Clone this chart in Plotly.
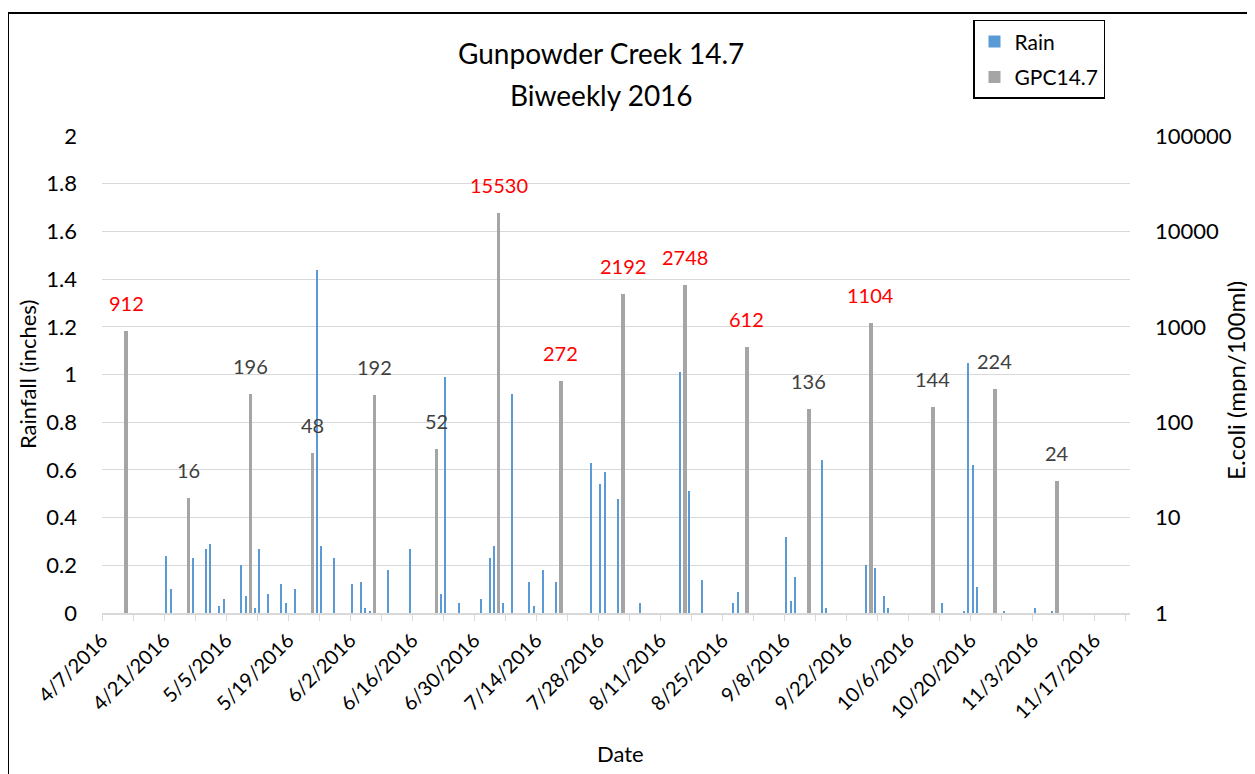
import numpy as np
import pandas as pd
import plotly.graph_objects as go

# daily rainfall (inches)
rain_dates = [
    '2016-04-21', '2016-04-22', '2016-04-27', '2016-04-30', '2016-05-01', '2016-05-03',
    '2016-05-04', '2016-05-08', '2016-05-09', '2016-05-11', '2016-05-12', '2016-05-14',
    '2016-05-17', '2016-05-18', '2016-05-20', '2016-05-25', '2016-05-26', '2016-05-29',
    '2016-06-02', '2016-06-04', '2016-06-05', '2016-06-06', '2016-06-10', '2016-06-15',
    '2016-06-22', '2016-06-23', '2016-06-26', '2016-07-01', '2016-07-03', '2016-07-04',
    '2016-07-06', '2016-07-08', '2016-07-12', '2016-07-13', '2016-07-15', '2016-07-18',
    '2016-07-26', '2016-07-28', '2016-07-29', '2016-08-01', '2016-08-06', '2016-08-15',
    '2016-08-17', '2016-08-20', '2016-08-27', '2016-08-28', '2016-09-08', '2016-09-09',
    '2016-09-10', '2016-09-16', '2016-09-17', '2016-09-26', '2016-09-28', '2016-09-30',
    '2016-10-01', '2016-10-13', '2016-10-18', '2016-10-19', '2016-10-20', '2016-10-21',
    '2016-10-27', '2016-11-03', '2016-11-07',
]
rain_inches = [
    0.24, 0.10, 0.23, 0.27, 0.29, 0.03,
    0.06, 0.20, 0.07, 0.02, 0.27, 0.08,
    0.12, 0.04, 0.10, 1.44, 0.28, 0.23,
    0.12, 0.13, 0.02, 0.01, 0.18, 0.27,
    0.08, 0.99, 0.04, 0.06, 0.23, 0.28,
    0.04, 0.92, 0.13, 0.03, 0.18, 0.13,
    0.63, 0.54, 0.59, 0.48, 0.04, 1.01,
    0.51, 0.14, 0.04, 0.09, 0.32, 0.05,
    0.15, 0.64, 0.02, 0.20, 0.19, 0.07,
    0.02, 0.04, 0.01, 1.05, 0.62, 0.11,
    0.01, 0.02, 0.01,
]

# biweekly E. coli samples at GPC14.7 (mpn/100ml)
ecoli_dates = [
    '2016-04-12', '2016-04-26', '2016-05-10', '2016-05-24', '2016-06-07', '2016-06-21',
    '2016-07-05', '2016-07-19', '2016-08-02', '2016-08-16', '2016-08-30', '2016-09-13',
    '2016-09-27', '2016-10-11', '2016-10-25', '2016-11-08',
]
ecoli_counts = [912, 16, 196, 48, 192, 52, 15530, 272, 2192, 2748, 612, 136, 1104, 144, 224, 24]

LIMIT = 240  # values above this get a red label

# page body adds an 8px margin, so the figure is 8px smaller than the window
OFF = 8
W, H = 1255 - OFF, 774 - OFF
L, R, T, B = 94, 125, 124, 161
PW, PH = W - L - R, H - T - B
DAY = 86400000
FONT = 'Lato, Carlito, Calibri, sans-serif'


def px_x(p):
    # screen pixel -> paper x
    return (p - OFF - L) / PW


def px_y(p):
    # screen pixel -> paper y
    return (H - B - (p - OFF)) / PH


def label(text, x, y, size, angle=0):
    fig.add_annotation(x=px_x(x), y=px_y(y), xref='paper', yref='paper',
                       xanchor='center', yanchor='middle', textangle=angle,
                       text=text, showarrow=False,
                       font=dict(family=FONT, size=size, color='#000000'))


# Excel centres each column in its day slot
half_day = pd.Timedelta(hours=12)
rain_x = pd.to_datetime(rain_dates) + half_day
ecoli_x = pd.to_datetime(ecoli_dates) + half_day

fig = go.Figure()
fig.add_trace(go.Bar(
    x=rain_x, y=rain_inches, name='Rain',
    marker=dict(color='#5B9BD5', line=dict(width=0)),
    width=0.3 * DAY, legendgroup='a',
))
fig.add_trace(go.Bar(
    x=ecoli_x, y=ecoli_counts, name='GPC14.7', yaxis='y2',
    marker=dict(color='#A5A5A5', line=dict(width=0)),
    width=0.85 * DAY, legendgroup='b',
))

for d, v in zip(ecoli_x, ecoli_counts):
    fig.add_annotation(
        x=d, y=np.log10(v), xref='x', yref='y2',
        text=str(v), showarrow=False, xanchor='center', yanchor='bottom', yshift=14,
        font=dict(family=FONT, size=20, color='#FF0000' if v > LIMIT else '#404040'),
    )

label('Gunpowder Creek 14.7', 601, 48, 28)
label('Biweekly 2016', 601, 91, 28)
label('Rainfall (inches)', 28, 373, 22, angle=-90)
label('E.coli (mpn/100ml)', 1236, 379, 24, angle=-90)
label('Date', 620, 755, 22)

# outer chart border
fig.add_shape(type='rect', xref='paper', yref='paper',
              x0=px_x(8), x1=px_x(1252), y0=px_y(790), y1=px_y(8),
              line=dict(color='#000000', width=2), layer='below')

fig.update_layout(
    width=W, height=H,
    margin=dict(l=L, r=R, t=T, b=B),
    paper_bgcolor='white', plot_bgcolor='white',
    barmode='overlay', bargap=0,
    font=dict(family=FONT, size=22, color='#000000'),
    legend=dict(x=px_x(973), y=px_y(15), xanchor='left', yanchor='top',
                bordercolor='#000000', borderwidth=1.5, bgcolor='white',
                font=dict(family=FONT, size=21), tracegroupgap=5,
                traceorder='grouped'),
    xaxis=dict(
        type='date', range=['2016-04-07', '2016-11-25'],
        tick0='2016-04-07', dtick=14 * DAY, tickformat='%-m/%-d/%Y', tickangle=-45,
        tickfont=dict(size=20),
        ticks='outside', ticklen=6, tickcolor='#D9D9D9', tickwidth=1.3,
        minor=dict(tick0='2016-04-07', dtick=7 * DAY, ticks='outside', ticklen=6,
                   tickcolor='#D9D9D9', tickwidth=1.3, showgrid=False),
        showline=True, linecolor='#D9D9D9', linewidth=1.5,
        showgrid=False, zeroline=False,
    ),
    yaxis=dict(
        range=[0, 2], dtick=0.2, showgrid=True, gridcolor='#D9D9D9', gridwidth=1.3,
        zeroline=False, showline=False, ticks='', ticklabelstandoff=24,
    ),
    yaxis2=dict(
        type='log', range=[0, 5], dtick=1, tickformat='d', overlaying='y', side='right',
        showgrid=False, zeroline=False, showline=False, ticks='', ticklabelstandoff=24,
    ),
)

fig.write_html('out.html')
